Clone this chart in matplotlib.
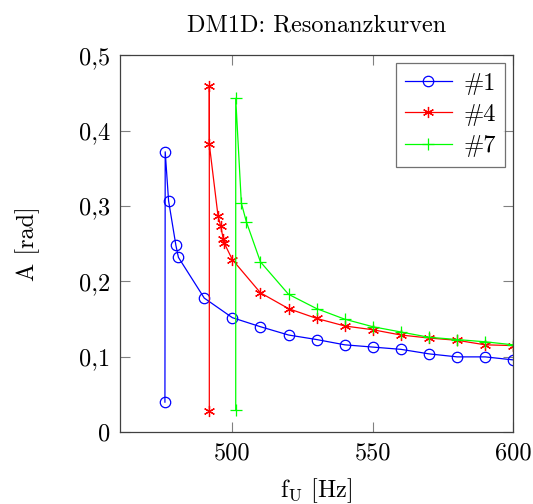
import numpy as np
import matplotlib
matplotlib.use("Agg")
import matplotlib.pyplot as plt

# computer modern look, like the pgfplots original
plt.rcParams['font.family'] = ['cmr10', 'DejaVu Serif']
plt.rcParams['mathtext.fontset'] = 'cm'
plt.rcParams['axes.formatter.use_mathtext'] = True

# measured resonance curves, frequency in Hz, amplitude in rad
f1 = [476, 476.1, 477.3, 479.9, 480.8, 490, 500, 510, 520, 530, 540, 550, 560, 570, 580, 590, 600]
a1 = [0.040, 0.372, 0.307, 0.248, 0.232, 0.178, 0.152, 0.140, 0.129, 0.123, 0.116, 0.113, 0.110, 0.104, 0.100, 0.100, 0.096]

f4 = [491.8, 491.8, 491.8, 494.9, 495.8, 496.8, 497.1, 500, 510, 520, 530, 540, 550, 560, 570, 580, 590, 600]
a4 = [0.028, 0.459, 0.382, 0.287, 0.274, 0.256, 0.251, 0.229, 0.185, 0.164, 0.151, 0.141, 0.136, 0.129, 0.125, 0.122, 0.116, 0.115]

f7 = [501.2, 501.2, 503.2, 505, 510, 520, 530, 540, 550, 560, 570, 580, 590, 600]
a7 = [0.030, 0.443, 0.304, 0.279, 0.226, 0.183, 0.164, 0.150, 0.140, 0.133, 0.126, 0.123, 0.120, 0.116]

xticks = [500, 550, 600]
yticks = [0, 0.1, 0.2, 0.3, 0.4, 0.5]
ylabels = ['0', '0,1', '0,2', '0,3', '0,4', '0,5']

fs = 17.5

fig = plt.figure(figsize=(5.33, 5.04), dpi=100)
ax = fig.add_axes([0.2251, 0.1423, 0.7379, 0.7480])

ax.plot(f1, a1, color='blue', lw=0.9, marker='o', ms=7.5, mfc='none', mew=0.9, label='#1')
ax.plot(f4, a4, color='red', lw=0.9, marker=(6, 2, 0), ms=8, mew=0.9, label='#4')
ax.plot(f7, a7, color=(0, 1, 0), lw=0.9, marker='+', ms=9, mew=0.9, label='#7')

ax.set_xlim(460, 600)
ax.set_ylim(0, 0.5)
ax.set_xticks(xticks)
ax.set_xticklabels([str(x) for x in xticks])
ax.set_yticks(yticks)
ax.set_yticklabels(ylabels)
ax.tick_params(direction='in', length=7.5, width=0.8, color='0.5', labelsize=fs,
               top=True, right=True)
ax.tick_params(axis='x', pad=7)
ax.tick_params(axis='y', pad=7)
for s in ax.spines.values():
    s.set_linewidth(0.9)
    s.set_color('0.25')

ax.set_title('DM1D: Resonanzkurven', fontsize=fs, pad=17)
ax.set_xlabel(r'$\mathrm{f_U}$ [Hz]', fontsize=fs, labelpad=9)
ax.set_ylabel('A [rad]', fontsize=fs, labelpad=28)

leg = ax.legend(loc='upper right', fontsize=fs, fancybox=False, edgecolor='0.3',
                handlelength=1.9, borderpad=0.38, labelspacing=0.38,
                handletextpad=0.5, borderaxespad=0, bbox_to_anchor=(0.98, 0.979))
leg.get_frame().set_linewidth(0.9)

fig.savefig('out.png', dpi=100)
